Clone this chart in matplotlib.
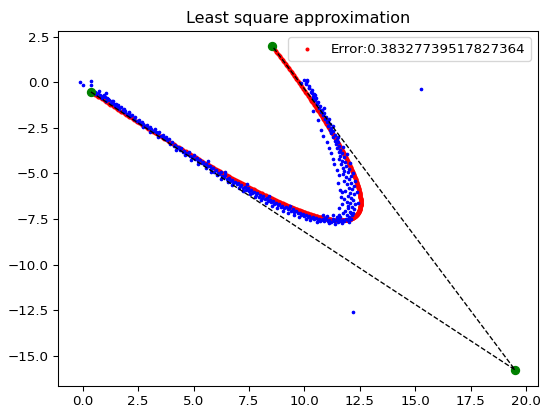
import numpy as np
import matplotlib
matplotlib.use("Agg")
import matplotlib.pyplot as plt
from matplotlib.bezier import BezierSegment

# Control points of the fitted quadratic Bezier curve
ctrl_x = [0.37, 19.5, 8.56]
ctrl_y = [-0.53, -15.78, 1.97]
fit_error = 0.38327739517827364

# Measured sample points
sample_x = [
    -0.10, 0.00, 0.36, 0.37, 0.75, 1.04, 0.55, 0.62, 0.70, 0.78, 0.85, 0.92, 1.00, 1.05, 1.12, 1.20,
    1.26, 1.33, 1.40, 1.46, 1.52, 1.58, 1.65, 1.72, 1.80, 1.86, 1.93, 2.00, 2.08, 2.15, 2.22,
    2.30, 2.38, 2.45, 2.52, 2.60, 2.66, 2.74, 2.80, 2.88, 2.95, 3.02, 3.10, 3.16, 3.24, 3.30,
    3.38, 3.45, 3.52, 3.60, 3.66, 3.74, 3.80, 3.88,
    3.95, 4.02, 4.10, 4.16, 4.24, 4.30, 4.38, 4.45, 4.52, 4.58, 4.66, 4.72, 4.80, 4.86, 4.94,
    5.00, 5.08, 5.15, 5.22, 5.30, 5.36, 5.44,
    5.50, 5.58, 5.64, 5.72, 5.80, 5.86, 5.94, 6.00, 6.08, 6.15, 6.22, 6.30, 6.36, 6.44, 6.50,
    6.58, 6.65, 6.72, 6.80,
    6.86, 6.94, 7.00, 7.08, 7.15, 7.22, 7.30, 7.36, 7.44, 7.50, 7.58, 7.65, 7.72, 7.80, 7.86,
    7.94, 8.00, 8.08,
    8.14, 8.22, 8.30, 8.36, 8.44, 8.50, 8.58, 8.65, 8.72, 8.80, 8.86, 8.94, 9.00, 9.08,
    9.16, 9.24, 9.32, 9.40, 9.48, 9.55, 9.62, 9.70, 9.78, 9.85, 9.92, 10.00, 10.08, 10.15,
    10.22, 10.30, 10.38, 10.45, 10.52, 10.60, 10.68, 10.75, 10.82,
    10.90, 10.98, 11.05, 11.12, 11.20, 11.28, 11.35, 11.42, 11.50, 11.58, 11.65, 11.72, 11.80,
    11.88, 11.95, 12.02, 12.08, 12.15,
    11.00, 11.30, 11.55, 11.75, 11.85, 11.60, 10.85, 11.95, 11.80, 11.70,
    12.20, 12.05, 12.25, 11.95, 12.15, 12.30, 12.05, 11.90, 12.20, 12.10, 11.95, 12.25, 12.05,
    11.85, 12.15, 12.00, 12.22, 11.90, 12.08, 11.80, 12.00, 11.88, 12.10, 11.75, 11.95, 11.80,
    12.00, 11.72, 11.88, 11.65, 11.85, 11.70, 11.58, 11.78, 11.62,
    11.70, 11.55, 11.62, 11.48, 11.58, 11.42, 11.50, 11.36, 11.45, 11.30, 11.38, 11.22, 11.30,
    11.15, 11.22, 11.08, 11.15, 11.00, 11.05, 10.92, 10.98, 10.85, 10.90, 10.76, 10.80, 10.68,
    10.72, 10.58, 10.62, 10.50, 10.52, 10.40, 10.44, 10.30, 10.32, 10.20, 10.22, 10.08, 10.12,
    9.98, 9.83, 10.10, 10.07, 10.22, 10.33, 10.48, 10.40, 10.58,
    # lower side of the long branch
    4.20, 4.60, 4.90, 5.20, 5.55, 5.80, 6.05, 6.25, 6.55, 6.75, 7.05, 7.25, 7.55, 7.75, 8.05,
    8.25, 8.55, 8.75, 9.05, 9.25, 9.55, 9.75, 10.05, 10.25, 10.55, 10.70, 3.40, 3.05, 2.70,
    # upper side near the start
    1.10, 1.35, 1.60, 1.85, 2.10, 0.95, 5.65, 6.40, 7.40, 8.40, 9.35,
    # inner cloud of the returning branch
    11.55, 11.70, 11.65, 11.60, 11.50, 11.55, 11.45, 11.35, 11.30, 11.20, 11.10, 11.00,
    12.35, 12.40, 12.30, 12.20, 12.05, 11.90, 11.75, 11.50, 10.85, 10.75, 11.30, 10.60,
    11.10, 10.40, 10.90,
    # bottom of the bend
    11.10, 11.40, 11.70, 12.00, 10.95, 11.45, 11.90, 12.10,
    # stray readings
    15.25, 12.18,
]
sample_y = [
    0.03, -0.15, 0.07, -0.15, -0.48, -0.57, -0.52, -0.66, -0.60, -0.68, -0.86, -0.76, -0.83, -1.00, -0.90, -0.98,
    -1.13, -1.03, -1.18, -1.30, -1.18, -1.33, -1.46, -1.38, -1.50, -1.63, -1.56, -1.73, -1.66, -1.83, -1.78,
    -1.99, -1.92, -2.14, -2.06, -2.24, -2.16, -2.29, -2.39, -2.34, -2.52, -2.44, -2.59, -2.66, -2.56, -2.74,
    -2.80, -2.72, -2.96, -2.90, -3.04, -2.99, -3.19, -3.12,
    -3.36, -3.30, -3.48, -3.42, -3.60, -3.55, -3.70, -3.62, -3.82, -3.75, -3.88, -3.96, -3.85, -4.05, -4.12,
    -4.00, -4.20, -4.15, -4.32, -4.26, -4.45, -4.38,
    -4.52, -4.46, -4.62, -4.58, -4.75, -4.68, -4.90, -4.82, -4.98, -5.05, -4.92, -5.15, -5.22, -5.10, -5.30,
    -5.25, -5.42, -5.35, -5.52,
    -5.46, -5.60, -5.52, -5.70, -5.62, -5.80, -5.74, -5.90, -5.82, -5.98, -5.92, -6.08, -6.02, -6.18, -6.10,
    -6.28, -6.20, -6.35,
    -6.26, -6.40, -6.35, -6.50, -6.44, -6.58, -6.50, -6.66, -6.60, -6.74, -6.68, -6.85, -6.78, -6.90,
    -6.82, -6.98, -6.92, -7.05, -6.98, -7.12, -7.06, -7.20, -7.15, -7.28, -7.22, -7.35, -7.28, -7.40,
    -7.34, -7.46, -7.40, -7.52, -7.45, -7.55, -7.48, -7.58, -7.52,
    -7.62, -7.50, -7.60, -7.55, -7.66, -7.52, -7.62, -7.56, -7.65, -7.50, -7.60, -7.54, -7.62,
    -7.48, -7.58, -7.42, -7.52, -7.30,
    -7.35, -7.30, -7.28, -7.20, -7.05, -7.40, -7.30, -6.80, -6.40, -6.00,
    -7.20, -7.10, -6.98, -6.90, -6.82, -6.70, -6.62, -6.55, -6.48, -6.35, -6.25, -6.15, -6.05,
    -5.98, -5.88, -5.78, -5.68, -5.60, -5.50, -5.42, -5.32, -5.22, -5.12, -5.05, -4.95, -4.85,
    -4.75, -4.68, -4.58, -4.50, -4.40, -4.30, -4.22, -4.12, -4.02,
    -3.90, -3.80, -3.70, -3.60, -3.50, -3.40, -3.30, -3.20, -3.10, -3.00, -2.90, -2.80, -2.70,
    -2.60, -2.50, -2.40, -2.30, -2.20, -2.10, -2.00, -1.90, -1.80, -1.70, -1.62, -1.50, -1.40,
    -1.30, -1.20, -1.08, -0.98, -0.86, -0.75, -0.62, -0.52, -0.40, -0.30, -0.18, -0.08, 0.05,
    0.12, -0.06, 0.13, -0.06, -0.33, -0.60, -0.69, -0.88, -1.15,
    # lower side of the long branch
    -3.72, -3.98, -4.25, -4.48, -4.70, -4.90, -5.10, -5.30, -5.48, -5.62, -5.82, -5.95, -6.15, -6.30, -6.48,
    -6.62, -6.78, -6.92, -7.05, -7.15, -7.30, -7.38, -7.50, -7.58, -7.68, -7.62, -3.00, -2.75, -2.48,
    # upper side near the start
    -0.85, -1.05, -1.25, -1.45, -1.65, -0.70, -4.30, -4.95, -5.60, -6.25, -6.80,
    # inner cloud of the returning branch
    -6.90, -6.70, -6.30, -5.90, -5.50, -5.10, -4.80, -4.50, -4.20, -3.90, -3.60, -3.30,
    -6.00, -6.60, -5.40, -5.00, -4.45, -3.95, -3.55, -3.00, -2.95, -2.60, -2.40, -2.05,
    -2.00, -1.60, -1.40,
    # bottom of the bend
    -7.72, -7.75, -7.70, -7.65, -7.45, -7.42, -7.30, -7.15,
    # stray readings
    -0.37, -12.58,
]

DPI = 96
fig = plt.figure(figsize=(541 / DPI, 415 / DPI), dpi=DPI)
ax = fig.add_axes([0.1078, 0.0706, 0.886, 0.8554])

# Fitted curve, evaluated with matplotlib's Bezier helper
segment = BezierSegment(np.column_stack([ctrl_x, ctrl_y]))
curve = segment(np.linspace(0.0, 1.0, 600))
ax.scatter(curve[:, 0], curve[:, 1], s=4, color="red",
           label=f"Error:{fit_error}")

ax.scatter(sample_x, sample_y, s=3, color="blue")

# Control polygon
ax.scatter(ctrl_x, ctrl_y, s=36, color="green")
ax.plot(ctrl_x, ctrl_y, "k--", lw=1)

ax.set_xlim(-1.1, 20.52)
ax.set_ylim(-16.65, 2.83)
ax.set_title("Least square approximation")
ax.legend(loc="upper right")

fig.savefig("out.png", dpi=DPI)
